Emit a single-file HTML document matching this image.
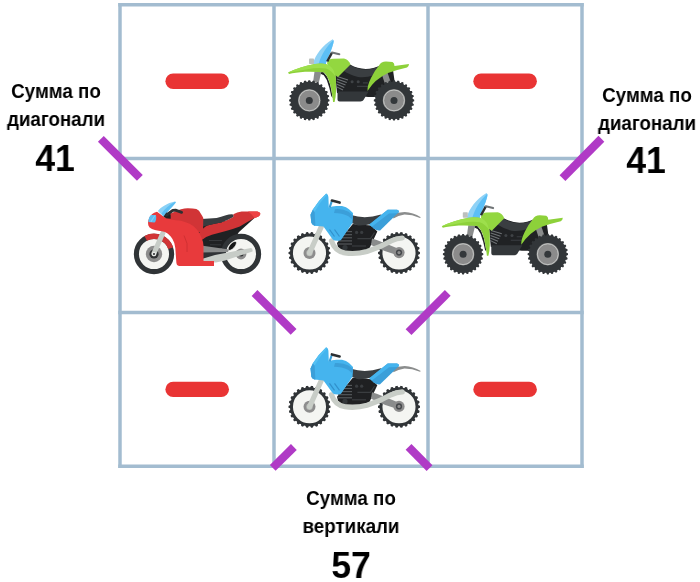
<!DOCTYPE html>
<html><head><meta charset="utf-8"><style>
html,body{margin:0;padding:0;background:#fff;width:700px;height:582px;overflow:hidden;position:relative}
.t{position:absolute;will-change:transform;font-family:"Liberation Sans",sans-serif;font-weight:bold;color:#000;white-space:nowrap;text-align:center;transform-origin:50% 0}
.s{font-size:20.5px;line-height:28px}
.n{font-size:37.5px;line-height:37px;transform:scaleX(0.95)}
</style></head>
<body>
<svg width="700" height="582" viewBox="0 0 700 582" style="position:absolute;left:0;top:0">
<defs>
<g id="atv"><path d="M330,64 Q336,62 350,64.5 Q365,73 381,65 L393,70 L395,84 L376,97 L368,97 L337,93 L335,72 Z" fill="#202224"/>
<path d="M320.5,71.8 L323.5,72.3 L327.2,76.8 L330.1,84.2 L331.6,91.6 L332.6,98 L331.2,96 L329.4,88 L326.8,80 L323.8,75.2 L320.5,73.8 Z" fill="#202224"/>
<path d="M314.5,71.5 L321.5,71.5 L318.8,82.5 L313,82.5 Z" fill="#8a8c8c"/>
<path d="M381,72 L387,71 L391,83 L385,84 Z" fill="#8a8c8c"/>
<path d="M349,64.5 Q365,74 381,65.5 L385,70 Q372,78.5 358,77 Q349,74.5 344,71 Z" fill="#3a3e41"/>
<path d="M337.20,76.60 L348.00,80.00" stroke="#6f7376" stroke-width="1.05"/>
<path d="M336.95,79.10 L346.75,82.50" stroke="#6f7376" stroke-width="1.05"/>
<path d="M336.70,81.60 L345.50,85.00" stroke="#6f7376" stroke-width="1.05"/>
<path d="M336.45,84.10 L344.25,87.50" stroke="#6f7376" stroke-width="1.05"/>
<path d="M336.20,86.60 L343.00,90.00" stroke="#6f7376" stroke-width="1.05"/>
<circle cx="352.1" cy="81.8" r="1.5" fill="#3f4346"/><circle cx="358.2" cy="81.8" r="1.5" fill="#3f4346"/>
<path d="M362.9,82.9 L367.9,82.9 M357,86.4 L369,86.4" stroke="#3a3e41" stroke-width="1.1"/>
<path d="M337.5,91.4 L368.6,91.4 L363.5,100 Q362.8,101.4 360.5,101.4 L339.5,101.4 Q337.5,101.4 337.5,99.5 Z" fill="#33373a"/>
<path d="M329.50,100.40 L329.50,100.78 L329.49,101.16 L328.87,101.50 L328.00,101.80 L327.72,102.13 L327.68,102.47 L327.64,102.81 L327.85,103.20 L328.63,103.68 L329.15,104.16 L329.07,104.53 L328.99,104.89 L328.91,105.26 L328.81,105.63 L328.14,105.83 L327.22,105.93 L326.87,106.18 L326.76,106.51 L326.64,106.84 L326.76,107.25 L327.41,107.90 L327.81,108.48 L327.66,108.82 L327.50,109.16 L327.33,109.50 L327.16,109.84 L326.46,109.88 L325.54,109.78 L325.15,109.95 L324.96,110.24 L324.78,110.53 L324.80,110.97 L325.29,111.74 L325.55,112.40 L325.33,112.70 L325.09,112.99 L324.85,113.29 L324.61,113.58 L323.92,113.46 L323.05,113.16 L322.62,113.23 L322.38,113.48 L322.13,113.72 L322.06,114.15 L322.36,115.02 L322.48,115.71 L322.19,115.95 L321.89,116.19 L321.60,116.43 L321.30,116.65 L320.64,116.39 L319.87,115.90 L319.43,115.88 L319.14,116.06 L318.85,116.25 L318.68,116.64 L318.78,117.56 L318.74,118.26 L318.40,118.43 L318.06,118.60 L317.72,118.76 L317.38,118.91 L316.80,118.51 L316.15,117.86 L315.74,117.74 L315.41,117.86 L315.08,117.97 L314.83,118.32 L314.73,119.24 L314.53,119.91 L314.16,120.01 L313.79,120.09 L313.43,120.17 L313.06,120.25 L312.58,119.73 L312.10,118.95 L311.71,118.74 L311.37,118.78 L311.03,118.82 L310.70,119.10 L310.40,119.97 L310.06,120.59 L309.68,120.60 L309.30,120.60 L308.92,120.60 L308.54,120.59 L308.20,119.97 L307.90,119.10 L307.57,118.82 L307.23,118.78 L306.89,118.74 L306.50,118.95 L306.02,119.73 L305.54,120.25 L305.17,120.17 L304.81,120.09 L304.44,120.01 L304.07,119.91 L303.87,119.24 L303.77,118.32 L303.52,117.97 L303.19,117.86 L302.86,117.74 L302.45,117.86 L301.80,118.51 L301.22,118.91 L300.88,118.76 L300.54,118.60 L300.20,118.43 L299.86,118.26 L299.82,117.56 L299.92,116.64 L299.75,116.25 L299.46,116.06 L299.17,115.88 L298.73,115.90 L297.96,116.39 L297.30,116.65 L297.00,116.43 L296.71,116.19 L296.41,115.95 L296.12,115.71 L296.24,115.02 L296.54,114.15 L296.47,113.72 L296.22,113.48 L295.98,113.23 L295.55,113.16 L294.68,113.46 L293.99,113.58 L293.75,113.29 L293.51,112.99 L293.27,112.70 L293.05,112.40 L293.31,111.74 L293.80,110.97 L293.82,110.53 L293.64,110.24 L293.45,109.95 L293.06,109.78 L292.14,109.88 L291.44,109.84 L291.27,109.50 L291.10,109.16 L290.94,108.82 L290.79,108.48 L291.19,107.90 L291.84,107.25 L291.96,106.84 L291.84,106.51 L291.73,106.18 L291.38,105.93 L290.46,105.83 L289.79,105.63 L289.69,105.26 L289.61,104.89 L289.53,104.53 L289.45,104.16 L289.97,103.68 L290.75,103.20 L290.96,102.81 L290.92,102.47 L290.88,102.13 L290.60,101.80 L289.73,101.50 L289.11,101.16 L289.10,100.78 L289.10,100.40 L289.10,100.02 L289.11,99.64 L289.73,99.30 L290.60,99.00 L290.88,98.67 L290.92,98.33 L290.96,97.99 L290.75,97.60 L289.97,97.12 L289.45,96.64 L289.53,96.27 L289.61,95.91 L289.69,95.54 L289.79,95.17 L290.46,94.97 L291.38,94.87 L291.73,94.62 L291.84,94.29 L291.96,93.96 L291.84,93.55 L291.19,92.90 L290.79,92.32 L290.94,91.98 L291.10,91.64 L291.27,91.30 L291.44,90.96 L292.14,90.92 L293.06,91.02 L293.45,90.85 L293.64,90.56 L293.82,90.27 L293.80,89.83 L293.31,89.06 L293.05,88.40 L293.27,88.10 L293.51,87.81 L293.75,87.51 L293.99,87.22 L294.68,87.34 L295.55,87.64 L295.98,87.57 L296.22,87.32 L296.47,87.08 L296.54,86.65 L296.24,85.78 L296.12,85.09 L296.41,84.85 L296.71,84.61 L297.00,84.37 L297.30,84.15 L297.96,84.41 L298.73,84.90 L299.17,84.92 L299.46,84.74 L299.75,84.55 L299.92,84.16 L299.82,83.24 L299.86,82.54 L300.20,82.37 L300.54,82.20 L300.88,82.04 L301.22,81.89 L301.80,82.29 L302.45,82.94 L302.86,83.06 L303.19,82.94 L303.52,82.83 L303.77,82.48 L303.87,81.56 L304.07,80.89 L304.44,80.79 L304.81,80.71 L305.17,80.63 L305.54,80.55 L306.02,81.07 L306.50,81.85 L306.89,82.06 L307.23,82.02 L307.57,81.98 L307.90,81.70 L308.20,80.83 L308.54,80.21 L308.92,80.20 L309.30,80.20 L309.68,80.20 L310.06,80.21 L310.40,80.83 L310.70,81.70 L311.03,81.98 L311.37,82.02 L311.71,82.06 L312.10,81.85 L312.58,81.07 L313.06,80.55 L313.43,80.63 L313.79,80.71 L314.16,80.79 L314.53,80.89 L314.73,81.56 L314.83,82.48 L315.08,82.83 L315.41,82.94 L315.74,83.06 L316.15,82.94 L316.80,82.29 L317.38,81.89 L317.72,82.04 L318.06,82.20 L318.40,82.37 L318.74,82.54 L318.78,83.24 L318.68,84.16 L318.85,84.55 L319.14,84.74 L319.43,84.92 L319.87,84.90 L320.64,84.41 L321.30,84.15 L321.60,84.37 L321.89,84.61 L322.19,84.85 L322.48,85.09 L322.36,85.78 L322.06,86.65 L322.13,87.08 L322.38,87.32 L322.62,87.57 L323.05,87.64 L323.92,87.34 L324.61,87.22 L324.85,87.51 L325.09,87.81 L325.33,88.10 L325.55,88.40 L325.29,89.06 L324.80,89.83 L324.78,90.27 L324.96,90.56 L325.15,90.85 L325.54,91.02 L326.46,90.92 L327.16,90.96 L327.33,91.30 L327.50,91.64 L327.66,91.98 L327.81,92.32 L327.41,92.90 L326.76,93.55 L326.64,93.96 L326.76,94.29 L326.87,94.62 L327.22,94.87 L328.14,94.97 L328.81,95.17 L328.91,95.54 L328.99,95.91 L329.07,96.27 L329.15,96.64 L328.63,97.12 L327.85,97.60 L327.64,97.99 L327.68,98.33 L327.72,98.67 L328.00,99.00 L328.87,99.30 L329.49,99.64 L329.50,100.02 Z" fill="#323639"/>
<circle cx="309.3" cy="100.4" r="18.6" fill="#323639"/>
<circle cx="309.3" cy="100.4" r="11.2" fill="#8b8b8b"/>
<circle cx="309.3" cy="100.4" r="10.4" fill="none" stroke="#c6c8c6" stroke-width="0.95"/>
<circle cx="309.3" cy="100.4" r="3.5" fill="#34383b"/>
<path d="M414.20,100.40 L414.20,100.78 L414.19,101.16 L413.57,101.50 L412.70,101.80 L412.42,102.13 L412.38,102.47 L412.34,102.81 L412.55,103.20 L413.33,103.68 L413.85,104.16 L413.77,104.53 L413.69,104.89 L413.61,105.26 L413.51,105.63 L412.84,105.83 L411.92,105.93 L411.57,106.18 L411.46,106.51 L411.34,106.84 L411.46,107.25 L412.11,107.90 L412.51,108.48 L412.36,108.82 L412.20,109.16 L412.03,109.50 L411.86,109.84 L411.16,109.88 L410.24,109.78 L409.85,109.95 L409.66,110.24 L409.48,110.53 L409.50,110.97 L409.99,111.74 L410.25,112.40 L410.03,112.70 L409.79,112.99 L409.55,113.29 L409.31,113.58 L408.62,113.46 L407.75,113.16 L407.32,113.23 L407.08,113.48 L406.83,113.72 L406.76,114.15 L407.06,115.02 L407.18,115.71 L406.89,115.95 L406.59,116.19 L406.30,116.43 L406.00,116.65 L405.34,116.39 L404.57,115.90 L404.13,115.88 L403.84,116.06 L403.55,116.25 L403.38,116.64 L403.48,117.56 L403.44,118.26 L403.10,118.43 L402.76,118.60 L402.42,118.76 L402.08,118.91 L401.50,118.51 L400.85,117.86 L400.44,117.74 L400.11,117.86 L399.78,117.97 L399.53,118.32 L399.43,119.24 L399.23,119.91 L398.86,120.01 L398.49,120.09 L398.13,120.17 L397.76,120.25 L397.28,119.73 L396.80,118.95 L396.41,118.74 L396.07,118.78 L395.73,118.82 L395.40,119.10 L395.10,119.97 L394.76,120.59 L394.38,120.60 L394.00,120.60 L393.62,120.60 L393.24,120.59 L392.90,119.97 L392.60,119.10 L392.27,118.82 L391.93,118.78 L391.59,118.74 L391.20,118.95 L390.72,119.73 L390.24,120.25 L389.87,120.17 L389.51,120.09 L389.14,120.01 L388.77,119.91 L388.57,119.24 L388.47,118.32 L388.22,117.97 L387.89,117.86 L387.56,117.74 L387.15,117.86 L386.50,118.51 L385.92,118.91 L385.58,118.76 L385.24,118.60 L384.90,118.43 L384.56,118.26 L384.52,117.56 L384.62,116.64 L384.45,116.25 L384.16,116.06 L383.87,115.88 L383.43,115.90 L382.66,116.39 L382.00,116.65 L381.70,116.43 L381.41,116.19 L381.11,115.95 L380.82,115.71 L380.94,115.02 L381.24,114.15 L381.17,113.72 L380.92,113.48 L380.68,113.23 L380.25,113.16 L379.38,113.46 L378.69,113.58 L378.45,113.29 L378.21,112.99 L377.97,112.70 L377.75,112.40 L378.01,111.74 L378.50,110.97 L378.52,110.53 L378.34,110.24 L378.15,109.95 L377.76,109.78 L376.84,109.88 L376.14,109.84 L375.97,109.50 L375.80,109.16 L375.64,108.82 L375.49,108.48 L375.89,107.90 L376.54,107.25 L376.66,106.84 L376.54,106.51 L376.43,106.18 L376.08,105.93 L375.16,105.83 L374.49,105.63 L374.39,105.26 L374.31,104.89 L374.23,104.53 L374.15,104.16 L374.67,103.68 L375.45,103.20 L375.66,102.81 L375.62,102.47 L375.58,102.13 L375.30,101.80 L374.43,101.50 L373.81,101.16 L373.80,100.78 L373.80,100.40 L373.80,100.02 L373.81,99.64 L374.43,99.30 L375.30,99.00 L375.58,98.67 L375.62,98.33 L375.66,97.99 L375.45,97.60 L374.67,97.12 L374.15,96.64 L374.23,96.27 L374.31,95.91 L374.39,95.54 L374.49,95.17 L375.16,94.97 L376.08,94.87 L376.43,94.62 L376.54,94.29 L376.66,93.96 L376.54,93.55 L375.89,92.90 L375.49,92.32 L375.64,91.98 L375.80,91.64 L375.97,91.30 L376.14,90.96 L376.84,90.92 L377.76,91.02 L378.15,90.85 L378.34,90.56 L378.52,90.27 L378.50,89.83 L378.01,89.06 L377.75,88.40 L377.97,88.10 L378.21,87.81 L378.45,87.51 L378.69,87.22 L379.38,87.34 L380.25,87.64 L380.68,87.57 L380.92,87.32 L381.17,87.08 L381.24,86.65 L380.94,85.78 L380.82,85.09 L381.11,84.85 L381.41,84.61 L381.70,84.37 L382.00,84.15 L382.66,84.41 L383.43,84.90 L383.87,84.92 L384.16,84.74 L384.45,84.55 L384.62,84.16 L384.52,83.24 L384.56,82.54 L384.90,82.37 L385.24,82.20 L385.58,82.04 L385.92,81.89 L386.50,82.29 L387.15,82.94 L387.56,83.06 L387.89,82.94 L388.22,82.83 L388.47,82.48 L388.57,81.56 L388.77,80.89 L389.14,80.79 L389.51,80.71 L389.87,80.63 L390.24,80.55 L390.72,81.07 L391.20,81.85 L391.59,82.06 L391.93,82.02 L392.27,81.98 L392.60,81.70 L392.90,80.83 L393.24,80.21 L393.62,80.20 L394.00,80.20 L394.38,80.20 L394.76,80.21 L395.10,80.83 L395.40,81.70 L395.73,81.98 L396.07,82.02 L396.41,82.06 L396.80,81.85 L397.28,81.07 L397.76,80.55 L398.13,80.63 L398.49,80.71 L398.86,80.79 L399.23,80.89 L399.43,81.56 L399.53,82.48 L399.78,82.83 L400.11,82.94 L400.44,83.06 L400.85,82.94 L401.50,82.29 L402.08,81.89 L402.42,82.04 L402.76,82.20 L403.10,82.37 L403.44,82.54 L403.48,83.24 L403.38,84.16 L403.55,84.55 L403.84,84.74 L404.13,84.92 L404.57,84.90 L405.34,84.41 L406.00,84.15 L406.30,84.37 L406.59,84.61 L406.89,84.85 L407.18,85.09 L407.06,85.78 L406.76,86.65 L406.83,87.08 L407.08,87.32 L407.32,87.57 L407.75,87.64 L408.62,87.34 L409.31,87.22 L409.55,87.51 L409.79,87.81 L410.03,88.10 L410.25,88.40 L409.99,89.06 L409.50,89.83 L409.48,90.27 L409.66,90.56 L409.85,90.85 L410.24,91.02 L411.16,90.92 L411.86,90.96 L412.03,91.30 L412.20,91.64 L412.36,91.98 L412.51,92.32 L412.11,92.90 L411.46,93.55 L411.34,93.96 L411.46,94.29 L411.57,94.62 L411.92,94.87 L412.84,94.97 L413.51,95.17 L413.61,95.54 L413.69,95.91 L413.77,96.27 L413.85,96.64 L413.33,97.12 L412.55,97.60 L412.34,97.99 L412.38,98.33 L412.42,98.67 L412.70,99.00 L413.57,99.30 L414.19,99.64 L414.20,100.02 Z" fill="#323639"/>
<circle cx="394" cy="100.4" r="18.6" fill="#323639"/>
<circle cx="394" cy="100.4" r="11.2" fill="#8b8b8b"/>
<circle cx="394" cy="100.4" r="10.4" fill="none" stroke="#c6c8c6" stroke-width="0.95"/>
<circle cx="394" cy="100.4" r="3.5" fill="#34383b"/>
<path d="M313.2,65 L313.2,63 C315.5,55 322,45.5 332.7,39.2 Q334.2,40 333.4,43 C332,49 328.5,56 326,63 L326,65 Z" fill="#8fd2f6"/>
<path d="M318.8,65 L318.8,63 C321.5,54.5 326.5,46.5 333.2,40.2 Q334.2,40.5 333.4,43 C332,49 328.5,56 326,63 L326,65 Z" fill="#5cbff6"/>
<rect x="309" y="58.5" width="5" height="5.5" rx="0.8" fill="#bcc0bd"/>
<path d="M327,63 Q328,59 333,58.8 L344,58.5 Q348.5,59.5 350.5,64.5 L338,77 L330,72 Z" fill="#93d740"/>
<path d="M288,72.5 Q300,66.5 315,63.9 Q324.5,62.4 329.4,65.5 Q333.5,68 334.6,73.1 Q336,77 336,80.5 L336,91.6 Q335.8,98 334.6,101.9 L333.1,101.9 Q332.5,96 331.6,91.6 Q331,87 330.1,84.2 Q328.8,79.5 327.2,76.8 Q325.5,73.5 323.5,72.3 Q318,71.6 305,71.8 Q295,72.6 289,74 Z" fill="#8dd13a"/>
<path d="M288,72.5 Q300,66.5 315,63.9 Q324.5,62.4 329.4,65.5 Q333.5,68 334.6,73.1 Q335.3,75 335.6,77 Q332,70.5 326,68.5 Q318,67.2 306,69.5 Q296,71.3 288,72.5 Z" fill="#9ddf4c"/>
<path d="M379,65.5 Q381,61.5 386,61.5 L392.5,62 Q394.5,63 394.5,66 L409,64 Q409,66 407,67.5 Q396,70 388,73 Q375,79 367.5,91 Q367,86 371,78 Q375,70 379,65.5 Z" fill="#8dd13a"/>
<path d="M327.2,61.5 L332,52.6" stroke="#2c2f31" stroke-width="2.4"/>
<path d="M332,52.5 L339.3,54.3" stroke="#6f7375" stroke-width="2.1" stroke-linecap="round"/></g>
<g id="dirt"><path d="M392.4,214.5 Q398,212.6 404.7,212.1 Q413,212.5 420.8,217.3 L420,218 Q412,214.6 404.5,214.6 Q398,215.5 393.4,218.4 Z" fill="#8b8d8d"/>
<path d="M337,243 L352.8,223.9 L371.3,225.5 L377.3,231.5 L368.2,251 L342.7,251 L338,247 Z" fill="#1f2022"/>
<path d="M338,231.6 L352,231.6" stroke="#585c5f" stroke-width="1.1"/>
<path d="M338,234.7 L352,234.7" stroke="#585c5f" stroke-width="1.1"/>
<path d="M338,237.8 L352,237.8" stroke="#585c5f" stroke-width="1.1"/>
<path d="M338,240.9 L352,240.9" stroke="#585c5f" stroke-width="1.1"/>
<path d="M338,244.0 L352,244.0" stroke="#585c5f" stroke-width="1.1"/>
<circle cx="356.6" cy="232.4" r="1.6" fill="#3a3d40"/><circle cx="361.7" cy="232.4" r="1.6" fill="#3a3d40"/>
<path d="M357.4,238.6 L370.5,238.6 L374.5,232.5" stroke="#3a3d40" stroke-width="1.1" fill="none"/>
<path d="M352,246 L366,246" stroke="#3a3d40" stroke-width="1.2"/>
<circle cx="345" cy="247.6" r="2.6" fill="#33373a"/>
<path d="M330.50,253.00 L330.50,253.42 L330.48,253.85 L329.96,254.24 L328.94,254.57 L328.60,254.93 L328.56,255.31 L328.51,255.70 L328.75,256.13 L329.66,256.69 L330.08,257.20 L329.99,257.61 L329.89,258.03 L329.78,258.44 L329.67,258.84 L329.07,259.10 L328.00,259.18 L327.59,259.45 L327.45,259.81 L327.31,260.17 L327.45,260.65 L328.19,261.41 L328.47,262.00 L328.29,262.38 L328.09,262.76 L327.89,263.13 L327.69,263.50 L327.04,263.60 L325.99,263.43 L325.52,263.59 L325.30,263.91 L325.08,264.22 L325.09,264.72 L325.63,265.64 L325.77,266.28 L325.50,266.61 L325.22,266.93 L324.94,267.24 L324.65,267.55 L323.99,267.49 L323.01,267.07 L322.52,267.11 L322.23,267.37 L321.94,267.62 L321.84,268.11 L322.14,269.13 L322.12,269.79 L321.77,270.04 L321.43,270.28 L321.08,270.52 L320.72,270.75 L320.10,270.54 L319.25,269.89 L318.76,269.82 L318.42,270.00 L318.08,270.18 L317.86,270.62 L317.91,271.69 L317.73,272.32 L317.34,272.48 L316.95,272.64 L316.55,272.78 L316.15,272.92 L315.60,272.57 L314.93,271.74 L314.47,271.55 L314.09,271.64 L313.72,271.73 L313.40,272.11 L313.19,273.16 L312.87,273.73 L312.45,273.79 L312.03,273.85 L311.61,273.89 L311.19,273.93 L310.74,273.46 L310.29,272.49 L309.89,272.20 L309.50,272.20 L309.11,272.20 L308.71,272.49 L308.26,273.46 L307.81,273.93 L307.39,273.89 L306.97,273.85 L306.55,273.79 L306.13,273.73 L305.81,273.16 L305.60,272.11 L305.28,271.73 L304.91,271.64 L304.53,271.55 L304.07,271.74 L303.40,272.57 L302.85,272.92 L302.45,272.78 L302.05,272.64 L301.66,272.48 L301.27,272.32 L301.09,271.69 L301.14,270.62 L300.92,270.18 L300.58,270.00 L300.24,269.82 L299.75,269.89 L298.90,270.54 L298.28,270.75 L297.92,270.52 L297.57,270.28 L297.23,270.04 L296.88,269.79 L296.86,269.13 L297.16,268.11 L297.06,267.62 L296.77,267.37 L296.48,267.11 L295.99,267.07 L295.01,267.49 L294.35,267.55 L294.06,267.24 L293.78,266.93 L293.50,266.61 L293.23,266.28 L293.37,265.64 L293.91,264.72 L293.92,264.22 L293.70,263.91 L293.48,263.59 L293.01,263.43 L291.96,263.60 L291.31,263.50 L291.11,263.13 L290.91,262.76 L290.71,262.38 L290.53,262.00 L290.81,261.41 L291.55,260.65 L291.69,260.17 L291.55,259.81 L291.41,259.45 L291.00,259.18 L289.93,259.10 L289.33,258.84 L289.22,258.44 L289.11,258.03 L289.01,257.61 L288.92,257.20 L289.34,256.69 L290.25,256.13 L290.49,255.70 L290.44,255.31 L290.40,254.93 L290.06,254.57 L289.04,254.24 L288.52,253.85 L288.50,253.42 L288.50,253.00 L288.50,252.58 L288.52,252.15 L289.04,251.76 L290.06,251.43 L290.40,251.07 L290.44,250.69 L290.49,250.30 L290.25,249.87 L289.34,249.31 L288.92,248.80 L289.01,248.39 L289.11,247.97 L289.22,247.56 L289.33,247.16 L289.93,246.90 L291.00,246.82 L291.41,246.55 L291.55,246.19 L291.69,245.83 L291.55,245.35 L290.81,244.59 L290.53,244.00 L290.71,243.62 L290.91,243.24 L291.11,242.87 L291.31,242.50 L291.96,242.40 L293.01,242.57 L293.48,242.41 L293.70,242.09 L293.92,241.78 L293.91,241.28 L293.37,240.36 L293.23,239.72 L293.50,239.39 L293.78,239.07 L294.06,238.76 L294.35,238.45 L295.01,238.51 L295.99,238.93 L296.48,238.89 L296.77,238.63 L297.06,238.38 L297.16,237.89 L296.86,236.87 L296.88,236.21 L297.23,235.96 L297.57,235.72 L297.92,235.48 L298.28,235.25 L298.90,235.46 L299.75,236.11 L300.24,236.18 L300.58,236.00 L300.92,235.82 L301.14,235.38 L301.09,234.31 L301.27,233.68 L301.66,233.52 L302.05,233.36 L302.45,233.22 L302.85,233.08 L303.40,233.43 L304.07,234.26 L304.53,234.45 L304.91,234.36 L305.28,234.27 L305.60,233.89 L305.81,232.84 L306.13,232.27 L306.55,232.21 L306.97,232.15 L307.39,232.11 L307.81,232.07 L308.26,232.54 L308.71,233.51 L309.11,233.80 L309.50,233.80 L309.89,233.80 L310.29,233.51 L310.74,232.54 L311.19,232.07 L311.61,232.11 L312.03,232.15 L312.45,232.21 L312.87,232.27 L313.19,232.84 L313.40,233.89 L313.72,234.27 L314.09,234.36 L314.47,234.45 L314.93,234.26 L315.60,233.43 L316.15,233.08 L316.55,233.22 L316.95,233.36 L317.34,233.52 L317.73,233.68 L317.91,234.31 L317.86,235.38 L318.08,235.82 L318.42,236.00 L318.76,236.18 L319.25,236.11 L320.10,235.46 L320.72,235.25 L321.08,235.48 L321.43,235.72 L321.77,235.96 L322.12,236.21 L322.14,236.87 L321.84,237.89 L321.94,238.38 L322.23,238.63 L322.52,238.89 L323.01,238.93 L323.99,238.51 L324.65,238.45 L324.94,238.76 L325.22,239.07 L325.50,239.39 L325.77,239.72 L325.63,240.36 L325.09,241.28 L325.08,241.78 L325.30,242.09 L325.52,242.41 L325.99,242.57 L327.04,242.40 L327.69,242.50 L327.89,242.87 L328.09,243.24 L328.29,243.62 L328.47,244.00 L328.19,244.59 L327.45,245.35 L327.31,245.83 L327.45,246.19 L327.59,246.55 L328.00,246.82 L329.07,246.90 L329.67,247.16 L329.78,247.56 L329.89,247.97 L329.99,248.39 L330.08,248.80 L329.66,249.31 L328.75,249.87 L328.51,250.30 L328.56,250.69 L328.60,251.07 L328.94,251.43 L329.96,251.76 L330.48,252.15 L330.50,252.58 Z" fill="#303437"/>
<circle cx="309.5" cy="253" r="17.95" fill="#f4f5f2" stroke="#303437" stroke-width="2.8"/>
<path d="M420.00,253.00 L420.00,253.42 L419.98,253.85 L419.46,254.24 L418.44,254.57 L418.10,254.93 L418.06,255.31 L418.01,255.70 L418.25,256.13 L419.16,256.69 L419.58,257.20 L419.49,257.61 L419.39,258.03 L419.28,258.44 L419.17,258.84 L418.57,259.10 L417.50,259.18 L417.09,259.45 L416.95,259.81 L416.81,260.17 L416.95,260.65 L417.69,261.41 L417.97,262.00 L417.79,262.38 L417.59,262.76 L417.39,263.13 L417.19,263.50 L416.54,263.60 L415.49,263.43 L415.02,263.59 L414.80,263.91 L414.58,264.22 L414.59,264.72 L415.13,265.64 L415.27,266.28 L415.00,266.61 L414.72,266.93 L414.44,267.24 L414.15,267.55 L413.49,267.49 L412.51,267.07 L412.02,267.11 L411.73,267.37 L411.44,267.62 L411.34,268.11 L411.64,269.13 L411.62,269.79 L411.27,270.04 L410.93,270.28 L410.58,270.52 L410.22,270.75 L409.60,270.54 L408.75,269.89 L408.26,269.82 L407.92,270.00 L407.58,270.18 L407.36,270.62 L407.41,271.69 L407.23,272.32 L406.84,272.48 L406.45,272.64 L406.05,272.78 L405.65,272.92 L405.10,272.57 L404.43,271.74 L403.97,271.55 L403.59,271.64 L403.22,271.73 L402.90,272.11 L402.69,273.16 L402.37,273.73 L401.95,273.79 L401.53,273.85 L401.11,273.89 L400.69,273.93 L400.24,273.46 L399.79,272.49 L399.39,272.20 L399.00,272.20 L398.61,272.20 L398.21,272.49 L397.76,273.46 L397.31,273.93 L396.89,273.89 L396.47,273.85 L396.05,273.79 L395.63,273.73 L395.31,273.16 L395.10,272.11 L394.78,271.73 L394.41,271.64 L394.03,271.55 L393.57,271.74 L392.90,272.57 L392.35,272.92 L391.95,272.78 L391.55,272.64 L391.16,272.48 L390.77,272.32 L390.59,271.69 L390.64,270.62 L390.42,270.18 L390.08,270.00 L389.74,269.82 L389.25,269.89 L388.40,270.54 L387.78,270.75 L387.42,270.52 L387.07,270.28 L386.73,270.04 L386.38,269.79 L386.36,269.13 L386.66,268.11 L386.56,267.62 L386.27,267.37 L385.98,267.11 L385.49,267.07 L384.51,267.49 L383.85,267.55 L383.56,267.24 L383.28,266.93 L383.00,266.61 L382.73,266.28 L382.87,265.64 L383.41,264.72 L383.42,264.22 L383.20,263.91 L382.98,263.59 L382.51,263.43 L381.46,263.60 L380.81,263.50 L380.61,263.13 L380.41,262.76 L380.21,262.38 L380.03,262.00 L380.31,261.41 L381.05,260.65 L381.19,260.17 L381.05,259.81 L380.91,259.45 L380.50,259.18 L379.43,259.10 L378.83,258.84 L378.72,258.44 L378.61,258.03 L378.51,257.61 L378.42,257.20 L378.84,256.69 L379.75,256.13 L379.99,255.70 L379.94,255.31 L379.90,254.93 L379.56,254.57 L378.54,254.24 L378.02,253.85 L378.00,253.42 L378.00,253.00 L378.00,252.58 L378.02,252.15 L378.54,251.76 L379.56,251.43 L379.90,251.07 L379.94,250.69 L379.99,250.30 L379.75,249.87 L378.84,249.31 L378.42,248.80 L378.51,248.39 L378.61,247.97 L378.72,247.56 L378.83,247.16 L379.43,246.90 L380.50,246.82 L380.91,246.55 L381.05,246.19 L381.19,245.83 L381.05,245.35 L380.31,244.59 L380.03,244.00 L380.21,243.62 L380.41,243.24 L380.61,242.87 L380.81,242.50 L381.46,242.40 L382.51,242.57 L382.98,242.41 L383.20,242.09 L383.42,241.78 L383.41,241.28 L382.87,240.36 L382.73,239.72 L383.00,239.39 L383.28,239.07 L383.56,238.76 L383.85,238.45 L384.51,238.51 L385.49,238.93 L385.98,238.89 L386.27,238.63 L386.56,238.38 L386.66,237.89 L386.36,236.87 L386.38,236.21 L386.73,235.96 L387.07,235.72 L387.42,235.48 L387.78,235.25 L388.40,235.46 L389.25,236.11 L389.74,236.18 L390.08,236.00 L390.42,235.82 L390.64,235.38 L390.59,234.31 L390.77,233.68 L391.16,233.52 L391.55,233.36 L391.95,233.22 L392.35,233.08 L392.90,233.43 L393.57,234.26 L394.03,234.45 L394.41,234.36 L394.78,234.27 L395.10,233.89 L395.31,232.84 L395.63,232.27 L396.05,232.21 L396.47,232.15 L396.89,232.11 L397.31,232.07 L397.76,232.54 L398.21,233.51 L398.61,233.80 L399.00,233.80 L399.39,233.80 L399.79,233.51 L400.24,232.54 L400.69,232.07 L401.11,232.11 L401.53,232.15 L401.95,232.21 L402.37,232.27 L402.69,232.84 L402.90,233.89 L403.22,234.27 L403.59,234.36 L403.97,234.45 L404.43,234.26 L405.10,233.43 L405.65,233.08 L406.05,233.22 L406.45,233.36 L406.84,233.52 L407.23,233.68 L407.41,234.31 L407.36,235.38 L407.58,235.82 L407.92,236.00 L408.26,236.18 L408.75,236.11 L409.60,235.46 L410.22,235.25 L410.58,235.48 L410.93,235.72 L411.27,235.96 L411.62,236.21 L411.64,236.87 L411.34,237.89 L411.44,238.38 L411.73,238.63 L412.02,238.89 L412.51,238.93 L413.49,238.51 L414.15,238.45 L414.44,238.76 L414.72,239.07 L415.00,239.39 L415.27,239.72 L415.13,240.36 L414.59,241.28 L414.58,241.78 L414.80,242.09 L415.02,242.41 L415.49,242.57 L416.54,242.40 L417.19,242.50 L417.39,242.87 L417.59,243.24 L417.79,243.62 L417.97,244.00 L417.69,244.59 L416.95,245.35 L416.81,245.83 L416.95,246.19 L417.09,246.55 L417.50,246.82 L418.57,246.90 L419.17,247.16 L419.28,247.56 L419.39,247.97 L419.49,248.39 L419.58,248.80 L419.16,249.31 L418.25,249.87 L418.01,250.30 L418.06,250.69 L418.10,251.07 L418.44,251.43 L419.46,251.76 L419.98,252.15 L420.00,252.58 Z" fill="#303437"/>
<circle cx="399" cy="253" r="17.95" fill="#f4f5f2" stroke="#303437" stroke-width="2.8"/>
<circle cx="309.5" cy="253" r="6" fill="#8d8d8d"/><circle cx="309.5" cy="253" r="3.2" fill="#b5b8b5"/><circle cx="309.5" cy="253" r="1.3" fill="#7d7f7f"/>
<path d="M372,238.5 Q380,241 399,249 L400,256 Q385,252 371,245 Z" fill="#8a8c8c"/>
<circle cx="399" cy="252.6" r="5.6" fill="#8d8d8d"/><circle cx="399" cy="252.6" r="3.1" fill="#44474a"/><circle cx="399" cy="252.6" r="1.6" fill="#8d8d8d"/>
<path d="M331.5,241 Q335,251.5 345,253 Q356,254.5 367,251.5 Q380,247.5 391,241 Q397,238.2 402.3,238" stroke="#c8cdc7" stroke-width="5.2" fill="none" stroke-linecap="round"/>
<path d="M321.4,226.5 L309.6,252.9" stroke="#c8cdc7" stroke-width="5.2" stroke-linecap="round"/>
<path d="M351,215 Q365,219.5 381,214.5 L384,218 Q372,226 358,225.5 L349,222 Z" fill="#3a3e41"/>
<path d="M369.3,224.4 L387.7,209.7 L397.1,209.7 Q399.5,210.5 399,212.1 L380.1,230.5 Q377,231 373.5,228.6 Z" fill="#3b9fd9"/>
<path d="M369.3,224.4 L387.7,209.7 L397.1,209.7 Q399.5,210.5 399,212.1 L397,213.3 L389,213.5 L371.8,226.8 Z" fill="#45b4ee"/>
<path d="M326.2,193.5 Q328.3,194.2 328.4,197 L328.8,207.5 Q332,206.3 336.4,206 L342,206 Q346.5,206.8 349,209.2 L353,213.1 L352.6,222.7 L341,240 Q340,240.7 338,240.7 L334.5,240.5 Q333,240 332,238.5 L323.5,226.6 L317,226 L314.4,225.7 Q311.5,224.5 311.3,222.6 L310.5,214.7 L312.9,209.5 Q318,201 326.2,193.5 Z" fill="#45b4ee"/>
<path d="M310.5,214.7 L312.9,209.5 L314.6,211.8 L315.4,225.8 L314.4,225.7 Q311.5,224.5 311.3,222.6 Z" fill="#3b9fd9"/>
<path d="M312.9,209.5 Q318,201 326.2,193.5 L326.8,195 Q320,202 314.6,211.8 Z" fill="#55c0f3"/>
<path d="M335,209.2 Q343,208.6 348.5,211.8 L353,215.2 L353,220 L348,216 Q342,213 334,213 Z" fill="#3b9fd9"/>
<path d="M329.5,229.5 L334.5,236.5" stroke="#3190cc" stroke-width="1.2"/>
<path d="M334.5,229.5 L339.5,236.5" stroke="#3190cc" stroke-width="1.2"/>
<path d="M329.6,207.6 L331.8,201.2" stroke="#3a9fd9" stroke-width="2.1"/>
<path d="M331.9,200.6 L339.6,202.6" stroke="#2d3032" stroke-width="2.6" stroke-linecap="round"/></g>
</defs>
<line x1="120" y1="3.05" x2="120" y2="467.95" stroke="#a3bcd0" stroke-width="3.5"/><line x1="274" y1="3.05" x2="274" y2="467.95" stroke="#a3bcd0" stroke-width="3.5"/><line x1="428" y1="3.05" x2="428" y2="467.95" stroke="#a3bcd0" stroke-width="3.5"/><line x1="582" y1="3.05" x2="582" y2="467.95" stroke="#a3bcd0" stroke-width="3.5"/><line x1="118.25" y1="4.8" x2="583.75" y2="4.8" stroke="#a3bcd0" stroke-width="3.5"/><line x1="118.25" y1="158.6" x2="583.75" y2="158.6" stroke="#a3bcd0" stroke-width="3.5"/><line x1="118.25" y1="312.4" x2="583.75" y2="312.4" stroke="#a3bcd0" stroke-width="3.5"/><line x1="118.25" y1="466.2" x2="583.75" y2="466.2" stroke="#a3bcd0" stroke-width="3.5"/>
<rect x="165.39999999999998" y="73.6" width="63.6" height="15.4" rx="7.7" fill="#e93434"/><rect x="473.3" y="73.6" width="63.6" height="15.4" rx="7.7" fill="#e93434"/><rect x="165.39999999999998" y="381.7" width="63.6" height="15.4" rx="7.7" fill="#e93434"/><rect x="473.3" y="381.7" width="63.6" height="15.4" rx="7.7" fill="#e93434"/>
<use href="#atv"/>
<use href="#atv" transform="translate(153.8,153.8)"/>
<use href="#dirt"/>
<use href="#dirt" transform="translate(0,153.8)"/>
<g><path d="M197,226 L225,221 L255,217.5 L239,232 L233,241 L226,248 L201,252 Z" fill="#1f2123"/>
<path d="M209,240.5 L222,240.5 M210,244.8 L221,244.8" stroke="#36393c" stroke-width="1"/>
<circle cx="154" cy="254" r="17.6" fill="#f4f5f2" stroke="#303437" stroke-width="5.1"/>
<circle cx="241" cy="254" r="17.6" fill="#f4f5f2" stroke="#303437" stroke-width="5.1"/>
<ellipse cx="232.3" cy="245.9" rx="2.4" ry="5.6" transform="rotate(42 232.3 245.9)" fill="#151617" stroke="#f4f5f2" stroke-width="0.6"/>
<circle cx="154" cy="254" r="8.2" fill="#8d8d8d"/><circle cx="154" cy="254" r="4.6" fill="#2f3133"/>
<circle cx="241" cy="254" r="5.4" fill="#8d8d8d"/><circle cx="241" cy="254" r="2.5" fill="#2f3133"/>
<path d="M200,251 L222,250 L220,258 L212,262 L200,262 Z" fill="#2f3235"/>
<path d="M201,245.5 L229,249.5 L228,252 L201,252.5 Z" fill="#8a8c8c"/>
<path d="M200,259.5 L215,255 L251,248 Q253,248.5 252.5,251.5 L225,260.5 L216,262.5 L201,262 Z" fill="#c7ccc7"/>
<path d="M145.69,238.37 A17.7,17.7 0 0 1 170.74,248.24" stroke="#d13436" stroke-width="5.4" fill="none"/>
<path d="M162.9,232.9 L153.9,253.6" stroke="#c7ccc7" stroke-width="5" stroke-linecap="round"/>
<circle cx="154" cy="254" r="2.2" fill="#e6e7e5"/><circle cx="154" cy="254" r="1.05" fill="#2f3133"/>
<path d="M233.3,214.3 Q237,212 241.6,211.5 L257.4,211.5 Q261,212.5 260.2,214.3 Q259.5,216.8 254.6,218 Q247,222 239.8,226.4 Q233,229 225.9,231 Q218,233 211.9,234.7 Q206,236.5 202.6,239.4 L198,241 L198,234.7 Q200,231 202.6,229.1 Q205,226.5 207.3,225.4 Q215,223.5 221.2,222.6 Q228,220 233.3,217 Z" fill="#d13436"/>
<path d="M248,211.5 L257.4,211.5 Q261,212.5 260.2,214.3 Q259.5,216.8 254.6,218 Q252,214 248,211.5 Z" fill="#ee4244"/>
<path d="M201.7,218.9 Q209,218.6 216.6,218 Q221,217 225.9,215.2 Q229,214.2 232.4,214.3 Q234,215 233.3,217 Q228,220 221.2,222.6 Q215,223.5 207.3,225.4 Q202,226.2 198,227.3 L198,220 Z" fill="#383c3f"/>
<path d="M166,214 L172,213 Q176,210.2 181,209.3 Q185,208.2 188,208.3 Q193,208.3 196.4,209.1 Q199.5,210.5 200.7,213.4 Q202.5,216 203.3,218 L203,232 L196,232 L185,226 L166,221 Z" fill="#d13436"/>
<path d="M157,211.7 L163.4,216.4 Q167,218.8 170.7,219.4 Q176,220 181,220.7 Q186,222 189.6,223.7 Q194,226 196.4,228.9 Q200,232.5 201.6,238 Q203.5,242 203.5,246 L203.5,261 L214,261 L214,266 L179,266 Q176.4,265.5 176.4,263 L175.7,253.6 Q175.5,247 174.3,242.9 Q173,239 170.7,236.4 Q168,233.5 165,232 Q162,231 158.6,230.7 Q154.5,230.2 152,229 Q149,227.5 148.4,225.4 Q147.7,222.5 148.4,220.3 Q149.5,216.5 151.9,214.3 Q154,212.5 157,211.7 Z" fill="#e83a3c"/>
<path d="M184,235.5 Q188.5,243 187,252" stroke="#cd2f31" stroke-width="0.9" fill="none"/>
<path d="M148.4,222 Q148.5,217 151,215.1 L155.7,215.1 Q156.6,217 156.1,219.4 Q155.5,222 154.4,222.4 Z" fill="#5bbdf0"/>
<path d="M150.3,221.5 L154.5,215.5 L155.7,215.1 L151.5,222 Z" fill="#86cff5"/>
<path d="M157.9,210.9 C161,207 167,203 175,201.4 Q176.6,201.8 175.2,203.2 C172,207 168,211 163.4,216.4 Z" fill="#8ad1f6"/>
<path d="M161.5,213.5 C165,208.5 169,205 175,201.8 Q176.6,201.8 175.2,203.2 C172,207 168,211 163.4,216.4 Z" fill="#5cbff4"/>
<path d="M163.4,216.4 L166.6,212.6 L170.7,214.5 L170.7,218.8 L166,218.2 Z" fill="#1f2123"/>
<path d="M166.6,215 L172.8,210.4 L175.5,210.2 L181.6,212.3" stroke="#2d3032" stroke-width="2.9" fill="none" stroke-linecap="round" stroke-linejoin="round"/></g>
<line x1="100.85" y1="138.95" x2="139.85" y2="177.8" stroke="#b03ac6" stroke-width="8.2"/><line x1="601.4" y1="138.75" x2="562.5" y2="178.1" stroke="#b03ac6" stroke-width="8.2"/><line x1="254.55" y1="293" x2="293.6" y2="331.95" stroke="#b03ac6" stroke-width="8.2"/><line x1="447.75" y1="292.85" x2="408.55" y2="332.15" stroke="#b03ac6" stroke-width="8.2"/><line x1="272.75" y1="467.9" x2="293.85" y2="447" stroke="#b03ac6" stroke-width="8.2"/><line x1="429.55" y1="468.1" x2="408.55" y2="446.95" stroke="#b03ac6" stroke-width="8.2"/>
</svg>
<div class="t s" style="left:-24.5px;width:160px;top:77.3px;transform:scaleX(0.915)">Сумма по<br>диагонали</div>
<div class="t n" style="left:-25.5px;width:160px;top:139.5px">41</div><div class="t s" style="left:566.5px;width:160px;top:80.7px;transform:scaleX(0.915)">Сумма по<br>диагонали</div>
<div class="t n" style="left:565.9px;width:160px;top:142px">41</div><div class="t s" style="left:270.5px;width:160px;top:484px;transform:scaleX(0.915)">Сумма по<br>вертикали</div>
<div class="t n" style="left:270.5px;width:160px;top:546.5px">57</div>
</body></html>
